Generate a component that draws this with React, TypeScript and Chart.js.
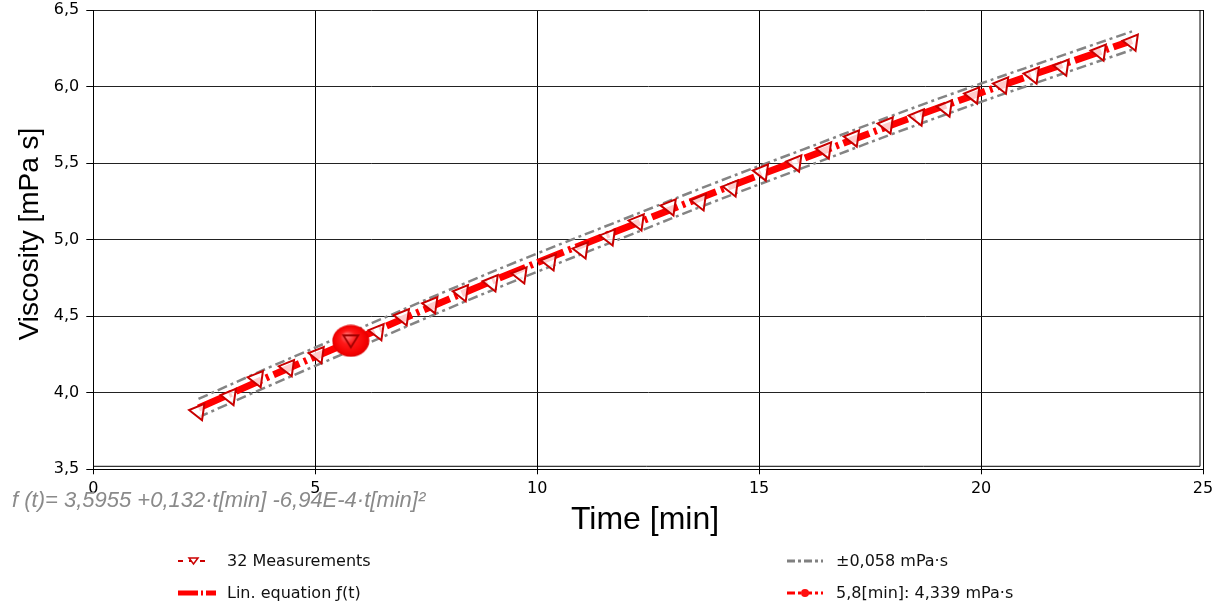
import { useEffect, useRef } from "react";
import { Chart, registerables } from "chart.js";

Chart.register(...registerables);

// ---- data ----
const TIME_MEAS = [
  2.37, 3.08, 3.69, 4.39, 5.06, 5.74, 6.41, 6.98, 7.62, 8.31, 8.98, 9.63, 10.29, 11.01, 11.62, 12.27,
  12.99, 13.67, 14.39, 15.07, 15.82, 16.49, 17.12, 17.88, 18.58, 19.21, 19.83, 20.48, 21.17, 21.84, 22.68, 23.40,
];
const VISC_MEAS = [
  3.878, 3.976, 4.093, 4.165, 4.250, 4.347, 4.400, 4.497, 4.576, 4.654, 4.719, 4.771, 4.856, 4.934, 5.019, 5.117,
  5.215, 5.248, 5.339, 5.443, 5.502, 5.587, 5.665, 5.750, 5.802, 5.861, 5.946, 6.011, 6.076, 6.128, 6.226, 6.291,
];
const FIT_T = [2.37, 4, 6, 8, 10, 12, 14, 16, 18, 20, 22, 23.4];
const FIT_V = [3.9, 4.11, 4.36, 4.61, 4.85, 5.08, 5.31, 5.53, 5.75, 5.96, 6.16, 6.3];
const BAND_UP = [3.96, 4.17, 4.42, 4.67, 4.91, 5.14, 5.37, 5.59, 5.81, 6.02, 6.22, 6.36];
const BAND_LO = [3.84, 4.05, 4.3, 4.55, 4.79, 5.02, 5.25, 5.47, 5.69, 5.9, 6.1, 6.24];
const HIGHLIGHT_T = [5.8];
const HIGHLIGHT_V = [4.339];

const X_MIN = 0;
const X_MAX = 25;
const X_STEP = 5;
const Y_MIN = 3.5;
const Y_MAX = 6.5;
const Y_STEP = 0.5;

const X_TITLE = "Time [min]";
const Y_TITLE = "Viscosity [mPa s]";
const FORMULA = "f (t)= 3,5955 +0,132·t[min] -6,94E-4·t[min]²";
const LEGEND_LABELS = ["32 Measurements", "Lin. equation ƒ(t)", "±0,058 mPa·s", "5,8[min]: 4,339 mPa·s"];

const pts = (xs: number[], ys: number[]) => xs.map((x, i) => ({ x, y: ys[i] }));

function makeSphere(): HTMLCanvasElement {
  const c = document.createElement("canvas");
  c.width = 38;
  c.height = 33;
  const g = c.getContext("2d")!;
  g.save();
  g.translate(19, 16.5);
  g.scale(1, 32 / 37);
  const grad = g.createRadialGradient(-4, -6, 2, 0, 0, 18.5);
  grad.addColorStop(0, "#ff6a6a");
  grad.addColorStop(0.35, "#ff1a1a");
  grad.addColorStop(0.85, "#f40000");
  grad.addColorStop(1, "#dc0000");
  g.fillStyle = grad;
  g.beginPath();
  g.arc(0, 0, 18.5, 0, Math.PI * 2);
  g.fill();
  g.restore();
  g.strokeStyle = "#a00000";
  g.lineWidth = 1.8;
  g.beginPath();
  g.moveTo(11.5, 11);
  g.lineTo(26.5, 11);
  g.lineTo(19, 23);
  g.closePath();
  g.stroke();
  return c;
}

const extrasPlugin = {
  id: "extras",
  afterDraw(chart: any) {
    const { ctx, chartArea: a } = chart;
    ctx.save();
    // inner frame lines (double border right / bottom)
    ctx.strokeStyle = "#000";
    ctx.lineWidth = 1;
    ctx.beginPath();
    ctx.moveTo(a.right - 3, a.top);
    ctx.lineTo(a.right - 3, a.bottom - 3);
    ctx.lineTo(a.left, a.bottom - 3);
    ctx.stroke();

    // y title
    ctx.fillStyle = "#000";
    ctx.font = '28px "Liberation Sans", Arial, sans-serif';
    ctx.textAlign = "center";
    ctx.textBaseline = "middle";
    ctx.save();
    ctx.translate(30, 234);
    ctx.rotate(-Math.PI / 2);
    ctx.fillText(Y_TITLE, 0, 0);
    ctx.restore();

    // x title
    ctx.font = '32px "Liberation Sans", Arial, sans-serif';
    ctx.textBaseline = "alphabetic";
    ctx.fillText(X_TITLE, 645, 529);

    // formula
    ctx.fillStyle = "#8a8a8a";
    ctx.font = 'italic 22px "Liberation Sans", Arial, sans-serif';
    ctx.textAlign = "left";
    ctx.fillText(FORMULA, 12, 507);

    // legend
    const rows = [561, 593];
    const colText = [227, 836];
    ctx.font = '16px "DejaVu Sans", sans-serif';
    ctx.textBaseline = "middle";
    LEGEND_LABELS.forEach((lab, i) => {
      const col = i < 2 ? 0 : 1;
      const row = i % 2;
      ctx.fillStyle = "#111";
      ctx.fillText(lab, colText[col], rows[row] + 1);
    });
    // symbol: measurements
    ctx.lineCap = "butt";
    ctx.strokeStyle = "#cc0000";
    ctx.lineWidth = 2;
    ctx.setLineDash([5, 6]);
    ctx.beginPath();
    ctx.moveTo(178, rows[0]);
    ctx.lineTo(208, rows[0]);
    ctx.stroke();
    ctx.setLineDash([]);
    ctx.fillStyle = "#fff";
    ctx.beginPath();
    ctx.moveTo(189, rows[0] - 3);
    ctx.lineTo(198, rows[0] - 3);
    ctx.lineTo(193.5, rows[0] + 3);
    ctx.closePath();
    ctx.fill();
    ctx.lineWidth = 1.5;
    ctx.stroke();
    // symbol: fit
    ctx.strokeStyle = "#ff0000";
    ctx.lineWidth = 5;
    ctx.setLineDash([20, 3, 2, 3]);
    ctx.beginPath();
    ctx.moveTo(178, rows[1]);
    ctx.lineTo(216, rows[1]);
    ctx.stroke();
    // symbol: band
    ctx.strokeStyle = "#808080";
    ctx.lineWidth = 3;
    ctx.setLineDash([8, 3, 3, 3]);
    ctx.beginPath();
    ctx.moveTo(787, rows[0]);
    ctx.lineTo(823, rows[0]);
    ctx.stroke();
    // symbol: highlight
    ctx.strokeStyle = "#ff0000";
    ctx.lineWidth = 3;
    ctx.setLineDash([8, 3, 3, 3]);
    ctx.beginPath();
    ctx.moveTo(787, rows[1]);
    ctx.lineTo(823, rows[1]);
    ctx.stroke();
    ctx.setLineDash([]);
    ctx.fillStyle = "#ff1010";
    ctx.beginPath();
    ctx.arc(805, rows[1], 4, 0, Math.PI * 2);
    ctx.fill();
    ctx.restore();
  },
};

export default function App() {
  const ref = useRef<HTMLCanvasElement | null>(null);
  useEffect(() => {
    if (!ref.current) return;
    const sphere = makeSphere();
    const chart = new Chart(ref.current, {
      type: "scatter",
      data: {
        datasets: [
          {
            label: LEGEND_LABELS[3],
            data: pts(HIGHLIGHT_T, HIGHLIGHT_V),
            pointStyle: sphere as any,
            pointRadius: 18,
            showLine: false,
            order: 0,
          },
          {
            label: LEGEND_LABELS[0],
            data: pts(TIME_MEAS, VISC_MEAS),
            showLine: false,
            pointStyle: "triangle",
            pointRadius: 9.5,
            pointRotation: 158,
            pointBorderColor: "#c80000",
            pointBackgroundColor: "rgba(255,255,255,0.8)",
            pointBorderWidth: 2,
            order: 1,
          },
          {
            label: LEGEND_LABELS[1],
            data: pts(FIT_T, FIT_V),
            showLine: true,
            borderColor: "#ff0000",
            borderWidth: 7,
            borderDash: [28, 5, 3, 5],
            pointRadius: 0,
            tension: 0.4,
            order: 2,
          },
          {
            label: LEGEND_LABELS[2],
            data: pts(FIT_T, BAND_UP),
            showLine: true,
            borderColor: "#848484",
            borderWidth: 2.5,
            borderDash: [10, 4, 3, 4],
            pointRadius: 0,
            tension: 0.4,
            order: 3,
          },
          {
            label: LEGEND_LABELS[2],
            data: pts(FIT_T, BAND_LO),
            showLine: true,
            borderColor: "#848484",
            borderWidth: 2.5,
            borderDash: [10, 4, 3, 4],
            pointRadius: 0,
            tension: 0.4,
            order: 3,
          },
        ],
      },
      options: {
        animation: false,
        responsive: false,
        devicePixelRatio: 1,
        layout: { autoPadding: false, padding: { top: 10, right: 17, left: 0, bottom: 0 } },
        plugins: { legend: { display: false }, tooltip: { enabled: false } },
        scales: {
          x: {
            type: "linear",
            min: X_MIN,
            max: X_MAX,
            ticks: {
              stepSize: X_STEP,
              color: "#000",
              font: { family: '"DejaVu Sans", sans-serif', size: 16 },
              padding: 5,
              callback: (v: any) => String(v),
            },
            grid: { color: "#000", lineWidth: 1, tickLength: 5, tickColor: "#000" },
            border: { color: "#000", width: 1 },
            afterFit: (s: any) => {
              s.height = 134.7;
              s.paddingLeft = 0;
              s.paddingRight = 0;
            },
          },
          y: {
            type: "linear",
            min: Y_MIN,
            max: Y_MAX,
            ticks: {
              stepSize: Y_STEP,
              color: "#000",
              font: { family: '"DejaVu Sans", sans-serif', size: 16 },
              padding: 7,
              callback: (v: any) => Number(v).toFixed(1).replace(".", ","),
            },
            grid: { color: "#222", lineWidth: 1, tickLength: 7, tickColor: "#000" },
            border: { color: "#000", width: 1 },
            afterFit: (s: any) => {
              s.width = 93.3;
              s.paddingTop = 0;
              s.paddingBottom = 0;
            },
          },
        },
      },
      plugins: [extrasPlugin],
    });
    return () => chart.destroy();
  }, []);
  return (
    <div style={{ position: "fixed", left: 0, top: 0, width: 1220, height: 604, background: "#fff" }}>
      <canvas ref={ref} width={1220} height={604} style={{ width: 1220, height: 604, display: "block" }} />
    </div>
  );
}
